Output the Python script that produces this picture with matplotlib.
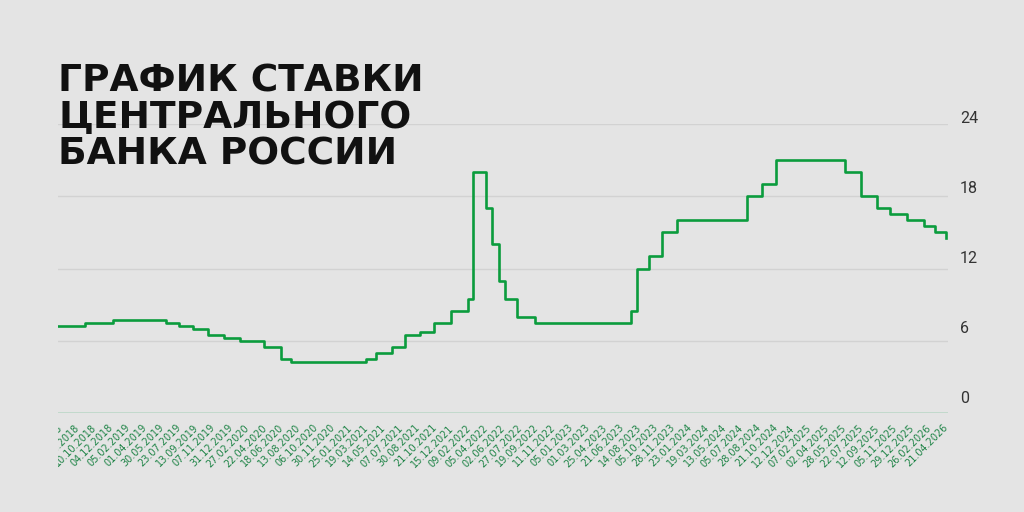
import numpy as np
import pandas as pd
import matplotlib
matplotlib.use("Agg")
import matplotlib.pyplot as plt
from matplotlib.transforms import Bbox, TransformedBbox, ScaledTranslation

# подписи оси X (первая уходит под обрезку слева)
tick_labels = [
    "19.06.2018", "15.08.2018", "10.10.2018", "04.12.2018", "05.02.2019",
    "01.04.2019", "30.05.2019", "23.07.2019", "13.09.2019", "07.11.2019",
    "31.12.2019", "27.02.2020", "22.04.2020", "18.06.2020", "13.08.2020",
    "06.10.2020", "30.11.2020", "25.01.2021", "19.03.2021", "14.05.2021",
    "07.07.2021", "30.08.2021", "21.10.2021", "15.12.2021", "09.02.2022",
    "05.04.2022", "02.06.2022", "27.07.2022", "19.09.2022", "11.11.2022",
    "05.01.2023", "01.03.2023", "25.04.2023", "21.06.2023", "14.08.2023",
    "05.10.2023", "28.11.2023", "23.01.2024", "19.03.2024", "13.05.2024",
    "05.07.2024", "28.08.2024", "21.10.2024", "12.12.2024", "07.02.2025",
    "02.04.2025", "28.05.2025", "22.07.2025", "12.09.2025", "05.11.2025",
    "29.12.2025", "26.02.2026", "21.04.2026",
]

# даты изменения ключевой ставки и её значения, %
rate_dates = [
    "19.06.2018", "17.09.2018", "17.12.2018", "17.06.2019", "29.07.2019",
    "09.09.2019", "28.10.2019", "16.12.2019", "10.02.2020", "27.04.2020",
    "22.06.2020", "27.07.2020", "22.03.2021", "26.04.2021", "15.06.2021",
    "26.07.2021", "13.09.2021", "25.10.2021", "20.12.2021", "14.02.2022",
    "28.02.2022", "11.04.2022", "04.05.2022", "27.05.2022", "14.06.2022",
    "25.07.2022", "19.09.2022", "24.07.2023", "15.08.2023", "18.09.2023",
    "30.10.2023", "18.12.2023", "29.07.2024", "16.09.2024", "28.10.2024",
    "09.06.2025", "28.07.2025", "15.09.2025", "27.10.2025", "22.12.2025",
    "16.02.2026", "23.03.2026", "27.04.2026",
]
rate_values = [
    7.25, 7.50, 7.75, 7.50, 7.25,
    7.00, 6.50, 6.25, 6.00, 5.50,
    4.50, 4.25, 4.50, 5.00, 5.50,
    6.50, 6.75, 7.50, 8.50, 9.50,
    20.0, 17.0, 14.0, 11.0, 9.50,
    8.00, 7.50, 8.50, 12.0, 13.0,
    15.0, 16.0, 18.0, 19.0, 21.0,
    20.0, 18.0, 17.0, 16.5, 16.0,
    15.5, 15.0, 14.5,
]
end_date = "28.04.2026"

y_ticks = [0, 6, 12, 18, 24]

title = "ГРАФИК СТАВКИ\nЦЕНТРАЛЬНОГО\nБАНКА РОССИИ"

BG = "#e4e4e4"
GREEN = "#0b9c3d"
LABEL_GREEN = "#1f8447"


def to_days(strs):
    d = pd.to_datetime(pd.Series(strs), format="%d.%m.%Y")
    return d.values.astype("datetime64[D]").astype(float)


tick_days = to_days(tick_labels)
tick_pos = np.arange(len(tick_labels), dtype=float)


def date_to_x(days):
    # ось категориальная: подписи идут через равные шаги
    x = np.interp(days, tick_days, tick_pos)
    step = tick_days[-1] - tick_days[-2]
    late = days > tick_days[-1]
    x[late] = tick_pos[-1] + (days[late] - tick_days[-1]) / step
    return x


x = date_to_x(to_days(rate_dates + [end_date]))
y = np.array(rate_values + [rate_values[-1]])

W, H = 1024, 512
fig = plt.figure(figsize=(W / 100, H / 100), dpi=100, facecolor=BG)

ax = fig.add_axes([58 / W, 99 / H, 890 / W, 289 / H])
ax.set_facecolor(BG)
ax.step(x, y, where="post", color=GREEN, lw=1.9, zorder=3)
ax.set_xlim(0, 52.25)
ax.set_ylim(0, 24)
ax.set_yticks(y_ticks)
ax.yaxis.set_tick_params(length=0, labelleft=False)
ax.grid(axis="y", color="#d2d2d2", lw=1)
ax.axhline(0, color="#bcd8c8", lw=1.2, zorder=2)
for s in ax.spines.values():
    s.set_visible(False)

ax.set_xticks(tick_pos)
ax.set_xticklabels(tick_labels, rotation=45, ha="right", va="center",
                   rotation_mode="anchor", fontsize=7,
                   family="DejaVu Sans", color=LABEL_GREEN)
ax.xaxis.set_tick_params(length=0, pad=9.5)
clip = TransformedBbox(Bbox([[58 / W, 0], [1, 1]]), fig.transFigure)
shift = ScaledTranslation(2.5 / 100, 0, fig.dpi_scale_trans)
for lab in ax.get_xticklabels():
    lab.set_clip_box(clip)
    lab.set_clip_on(True)
    lab.set_transform(lab.get_transform() + shift)

# подписи Y стоят чуть выше линий сетки, поэтому отдельная ось
ax2 = fig.add_axes([58 / W, 115 / H, 890 / W, 280 / H])
ax2.set_ylim(0, 24)
ax2.patch.set_visible(False)
ax2.set_xticks([])
ax2.set_yticks(y_ticks)
ax2.yaxis.tick_right()
ax2.yaxis.set_tick_params(length=0, pad=8.6, labelsize=11.5,
                          labelcolor="#333333")
for lab in ax2.get_yticklabels():
    lab.set_family("Roboto")
for s in ax2.spines.values():
    s.set_visible(False)

fig.text(58 / W, 1 - 63 / H, title, ha="left", va="top",
         fontsize=27, fontweight="bold", family="DejaVu Sans",
         linespacing=1.03, color="#111111")

fig.savefig("out.png", dpi=100, facecolor=BG)
